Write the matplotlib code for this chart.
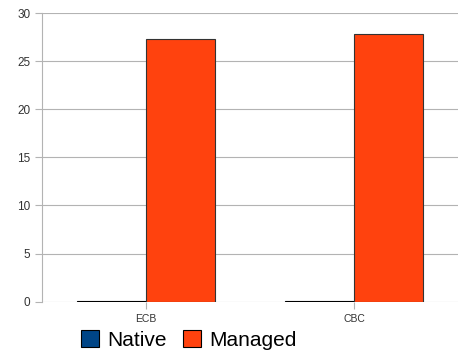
import numpy as np
import matplotlib.pyplot as plt
from matplotlib.patches import Patch

categories = ["ECB", "CBC"]
native = [0.05, 0.05]
managed = [27.25, 27.8]
y_ticks = [0, 5, 10, 15, 20, 25, 30]

plt.rcParams['font.family'] = ['Liberation Sans', 'DejaVu Sans']

fig = plt.figure(figsize=(4.58, 3.52), dpi=100)
ax = fig.add_axes([42 / 458, 1 - 301.7 / 352, 1 - 42 / 458, 288.7 / 352])

x = np.arange(len(categories))
w = 1 / 3
ax.bar(x - w / 2, native, w, color="#004586", edgecolor="black", linewidth=0.8, zorder=3)
ax.bar(x + w / 2, managed, w, color="#ff420e", edgecolor="#333333", linewidth=0.8, zorder=3)

ax.set_xlim(-0.5, 1.5)
ax.set_ylim(0, 30)
ax.set_yticks(y_ticks)
ax.yaxis.grid(True, color="#b3b3b3", linewidth=0.8, zorder=0)
ax.set_axisbelow(True)

ax.set_xticks(x)
ax.set_xticklabels(categories, fontsize=7.5, color="#333333")
ax.tick_params(axis='y', labelsize=8.5, labelcolor="#333333", color="#b3b3b3", length=5, width=0.8)
ax.tick_params(axis='x', color="#b3b3b3", length=5, width=0.8, pad=4)

for side in ["top", "right", "bottom"]:
    ax.spines[side].set_visible(False)
ax.spines["left"].set_color("#b3b3b3")
ax.spines["left"].set_linewidth(0.8)

handles = [Patch(facecolor="#004586", edgecolor="black", linewidth=0.8, label="Native"),
           Patch(facecolor="#ff420e", edgecolor="black", linewidth=0.8, label="Managed")]
fig.legend(handles=handles, loc="center", bbox_to_anchor=(189 / 458, 1 - 340 / 352),
           ncol=2, frameon=False, fontsize=15, handlelength=0.85, handleheight=0.85,
           handletextpad=0.4, columnspacing=0.8, borderpad=0)

fig.savefig("out.png", dpi=100)
